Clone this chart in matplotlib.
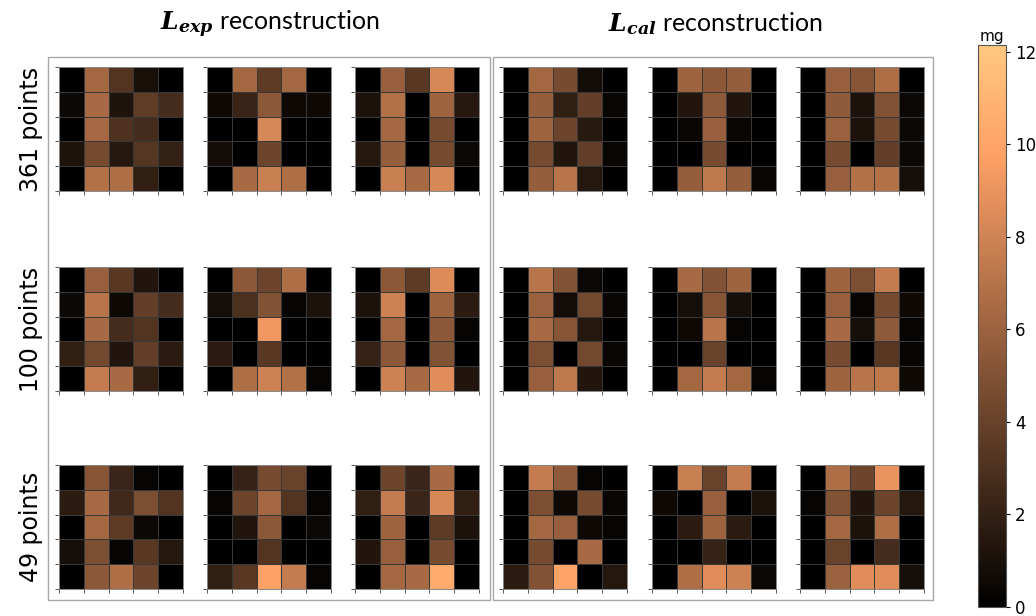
import matplotlib

matplotlib.use("Agg")

import matplotlib.pyplot as plt
from matplotlib import cm, colors
from matplotlib.patches import Rectangle
import numpy as np

plt.rcParams["mathtext.fontset"] = "dejavuserif"

# 5x5 mass maps (mg), three digits per panel group
lexp_361 = [
    [[0, 6.3, 3.2, 1.0, 0], [0.5, 6.5, 1.2, 3.7, 2.7], [0, 6.4, 3.0, 2.7, 0],
     [1.2, 4.6, 1.5, 3.3, 2.0], [0, 6.9, 6.7, 1.9, 0]],
    [[0, 6.3, 3.6, 6.3, 0], [0.6, 2.2, 5.4, 0.6, 0.6], [0, 0, 8.3, 0, 0],
     [0.8, 0, 4.2, 0, 0], [0, 6.5, 7.7, 6.7, 0]],
    [[0, 5.8, 3.4, 8.3, 0], [1.1, 6.9, 0, 6.1, 1.5], [0, 6.3, 0, 4.6, 0],
     [1.5, 5.7, 0, 4.6, 0.5], [0, 7.7, 6.5, 8.3, 0]],
]
lcal_361 = [
    [[0, 6.3, 4.6, 0.8, 0], [0, 5.7, 1.9, 3.8, 0.4], [0, 6.1, 4.2, 1.6, 0],
     [0, 4.6, 1.3, 3.8, 0.4], [0, 5.7, 7.1, 1.4, 0]],
    [[0, 6.1, 5.4, 5.7, 0], [0, 1.3, 5.5, 1.3, 0], [0, 0.4, 5.8, 0.4, 0],
     [0, 0, 4.6, 0, 0], [0, 5.7, 7.3, 5.7, 0.4]],
    [[0, 5.8, 5.2, 6.7, 0], [0, 5.5, 1.1, 5.0, 0.5], [0, 5.9, 1.1, 4.6, 0.5],
     [0, 4.6, 0, 3.8, 0.5], [0, 5.8, 6.9, 6.9, 0.9]],
]
lexp_100 = [
    [[0, 5.8, 3.4, 1.3, 0], [0.5, 7.1, 0.6, 3.8, 2.7], [0, 6.5, 2.7, 3.2, 0],
     [1.9, 4.4, 1.3, 3.8, 1.7], [0, 7.5, 6.5, 1.9, 0]],
    [[0, 5.4, 4.2, 6.7, 0], [0.9, 2.9, 5.0, 0.3, 1.1], [0, 0, 9.3, 0, 0],
     [1.7, 0, 3.4, 0, 0], [0, 6.7, 7.9, 6.9, 0.3]],
    [[0, 5.4, 3.6, 8.5, 0], [1.1, 7.9, 0, 6.1, 1.7], [0, 6.3, 0, 5.4, 0.3],
     [2.1, 5.4, 0, 5.0, 0], [0, 7.9, 6.5, 8.6, 1.3]],
]
lcal_100 = [
    [[0, 7.1, 5.0, 0.5, 0], [0, 5.9, 0.8, 4.4, 0.4], [0, 6.5, 5.2, 1.4, 0],
     [0, 4.8, 0, 4.4, 0.4], [0, 5.8, 7.3, 1.3, 0]],
    [[0, 6.5, 5.0, 6.1, 0], [0, 0.9, 5.2, 0.9, 0], [0, 0.6, 7.1, 0.3, 0],
     [0, 0, 4.0, 0, 0], [0, 6.3, 7.5, 6.3, 0.3]],
    [[0, 6.1, 4.8, 7.5, 0], [0, 5.8, 0.3, 4.6, 0.6], [0, 6.5, 0.9, 5.5, 0.3],
     [0, 4.6, 0, 3.4, 0.3], [0, 6.1, 7.1, 7.3, 0.6]],
]
lexp_49 = [
    [[0, 5.2, 2.3, 0.3, 0], [1.7, 6.5, 2.5, 4.8, 3.2], [0, 6.3, 3.6, 0.5, 0],
     [0.9, 4.8, 0.3, 3.4, 1.4], [0, 5.4, 6.7, 4.2, 0]],
    [[0, 2.1, 4.6, 4.0, 0], [0.3, 4.2, 6.3, 3.2, 0.3], [0, 1.3, 5.4, 0, 0.5],
     [0, 0, 3.2, 0, 0], [1.9, 3.4, 9.8, 7.5, 0.3]],
    [[0, 4.2, 2.3, 6.5, 0], [1.9, 7.5, 2.3, 8.3, 1.9], [0, 6.1, 0, 3.6, 1.1],
     [1.3, 5.8, 0, 4.6, 0], [0, 6.3, 6.5, 10.4, 0]],
]
lcal_49 = [
    [[0, 7.5, 5.5, 0.3, 0], [0, 4.8, 0.6, 4.6, 0.4], [0, 6.3, 5.8, 0.6, 0.3],
     [0, 4.6, 0, 6.5, 0], [1.7, 5.0, 10.0, 0, 1.4]],
    [[0, 7.7, 4.0, 7.5, 0], [0.6, 0, 5.8, 0, 1.1], [0, 1.7, 6.1, 1.7, 0],
     [0, 0, 2.1, 0, 0], [0, 6.7, 8.6, 7.9, 0.5]],
    [[0, 6.7, 4.2, 9.0, 0], [0.3, 5.0, 1.3, 4.2, 1.4], [0, 6.3, 1.1, 6.7, 0],
     [0, 4.0, 0, 2.7, 0], [0, 5.9, 8.6, 8.6, 0.9]],
]

row_labels = ["361 points", "100 points", "49 points"]
rows = [lexp_361 + lcal_361, lexp_100 + lcal_100, lexp_49 + lcal_49]
cbar_ticks = [0, 2, 4, 6, 8, 10, 12]
vmin, vmax = 0, 12.15

W, H = 1036, 616
fig = plt.figure(figsize=(W / 100, H / 100), dpi=100, facecolor="white")
cmap = plt.get_cmap("copper")
norm = colors.Normalize(vmin=vmin, vmax=vmax)


def px_axes(x0, y0, w, h):
    return fig.add_axes([x0 / W, 1 - (y0 + h) / H, w / W, h / H])


col_x = [59, 207, 355, 503, 652, 800]
row_y = [67, 267, 465]
size = 124

for r, maps in enumerate(rows):
    for c, grid in enumerate(maps):
        ax = px_axes(col_x[c], row_y[r], size, size)
        ax.pcolormesh(np.array(grid), cmap=cmap, norm=norm,
                      edgecolors="#383838", linewidth=0.5)
        ax.set_xlim(0, 5)
        ax.set_ylim(5, 0)
        ax.set_xticks(range(6))
        ax.set_yticks(range(6))
        ax.tick_params(labelbottom=False, labelleft=False, length=3,
                       width=0.7, color="#555555")
        for sp in ax.spines.values():
            sp.set_color("#888888")
            sp.set_linewidth(0.7)
    fig.text(31 / W, 1 - (row_y[r] + size / 2) / H, row_labels[r],
             rotation=90, ha="center", va="center", fontsize=17)

# frames round the two reconstruction groups
for x0, x1 in [(48, 490), (493, 933)]:
    fig.patches.append(Rectangle((x0 / W, 1 - 600 / H), (x1 - x0) / W,
                                 (600 - 57) / H, transform=fig.transFigure,
                                 fill=False, edgecolor="#a8a8a8", linewidth=1.0))

fig.text(270 / W, 1 - 24 / H, r"$\mathbfit{L_{exp}}$ reconstruction",
         ha="center", va="center", fontsize=18, family="Lato")
fig.text(715 / W, 1 - 24 / H, r"$\mathbfit{L_{cal}}$ reconstruction",
         ha="center", va="center", fontsize=18, family="Lato")

cax = px_axes(978, 45, 28, 562)
sm = cm.ScalarMappable(cmap=cmap, norm=norm)
sm.set_array([])
cbar = fig.colorbar(sm, cax=cax, ticks=cbar_ticks)
cbar.ax.tick_params(labelsize=12, length=3)
cbar.outline.set_edgecolor("#555555")
cbar.outline.set_linewidth(0.8)
cax.set_title("mg", fontsize=11, pad=3)

fig.savefig("out.png", dpi=100, facecolor="white")
